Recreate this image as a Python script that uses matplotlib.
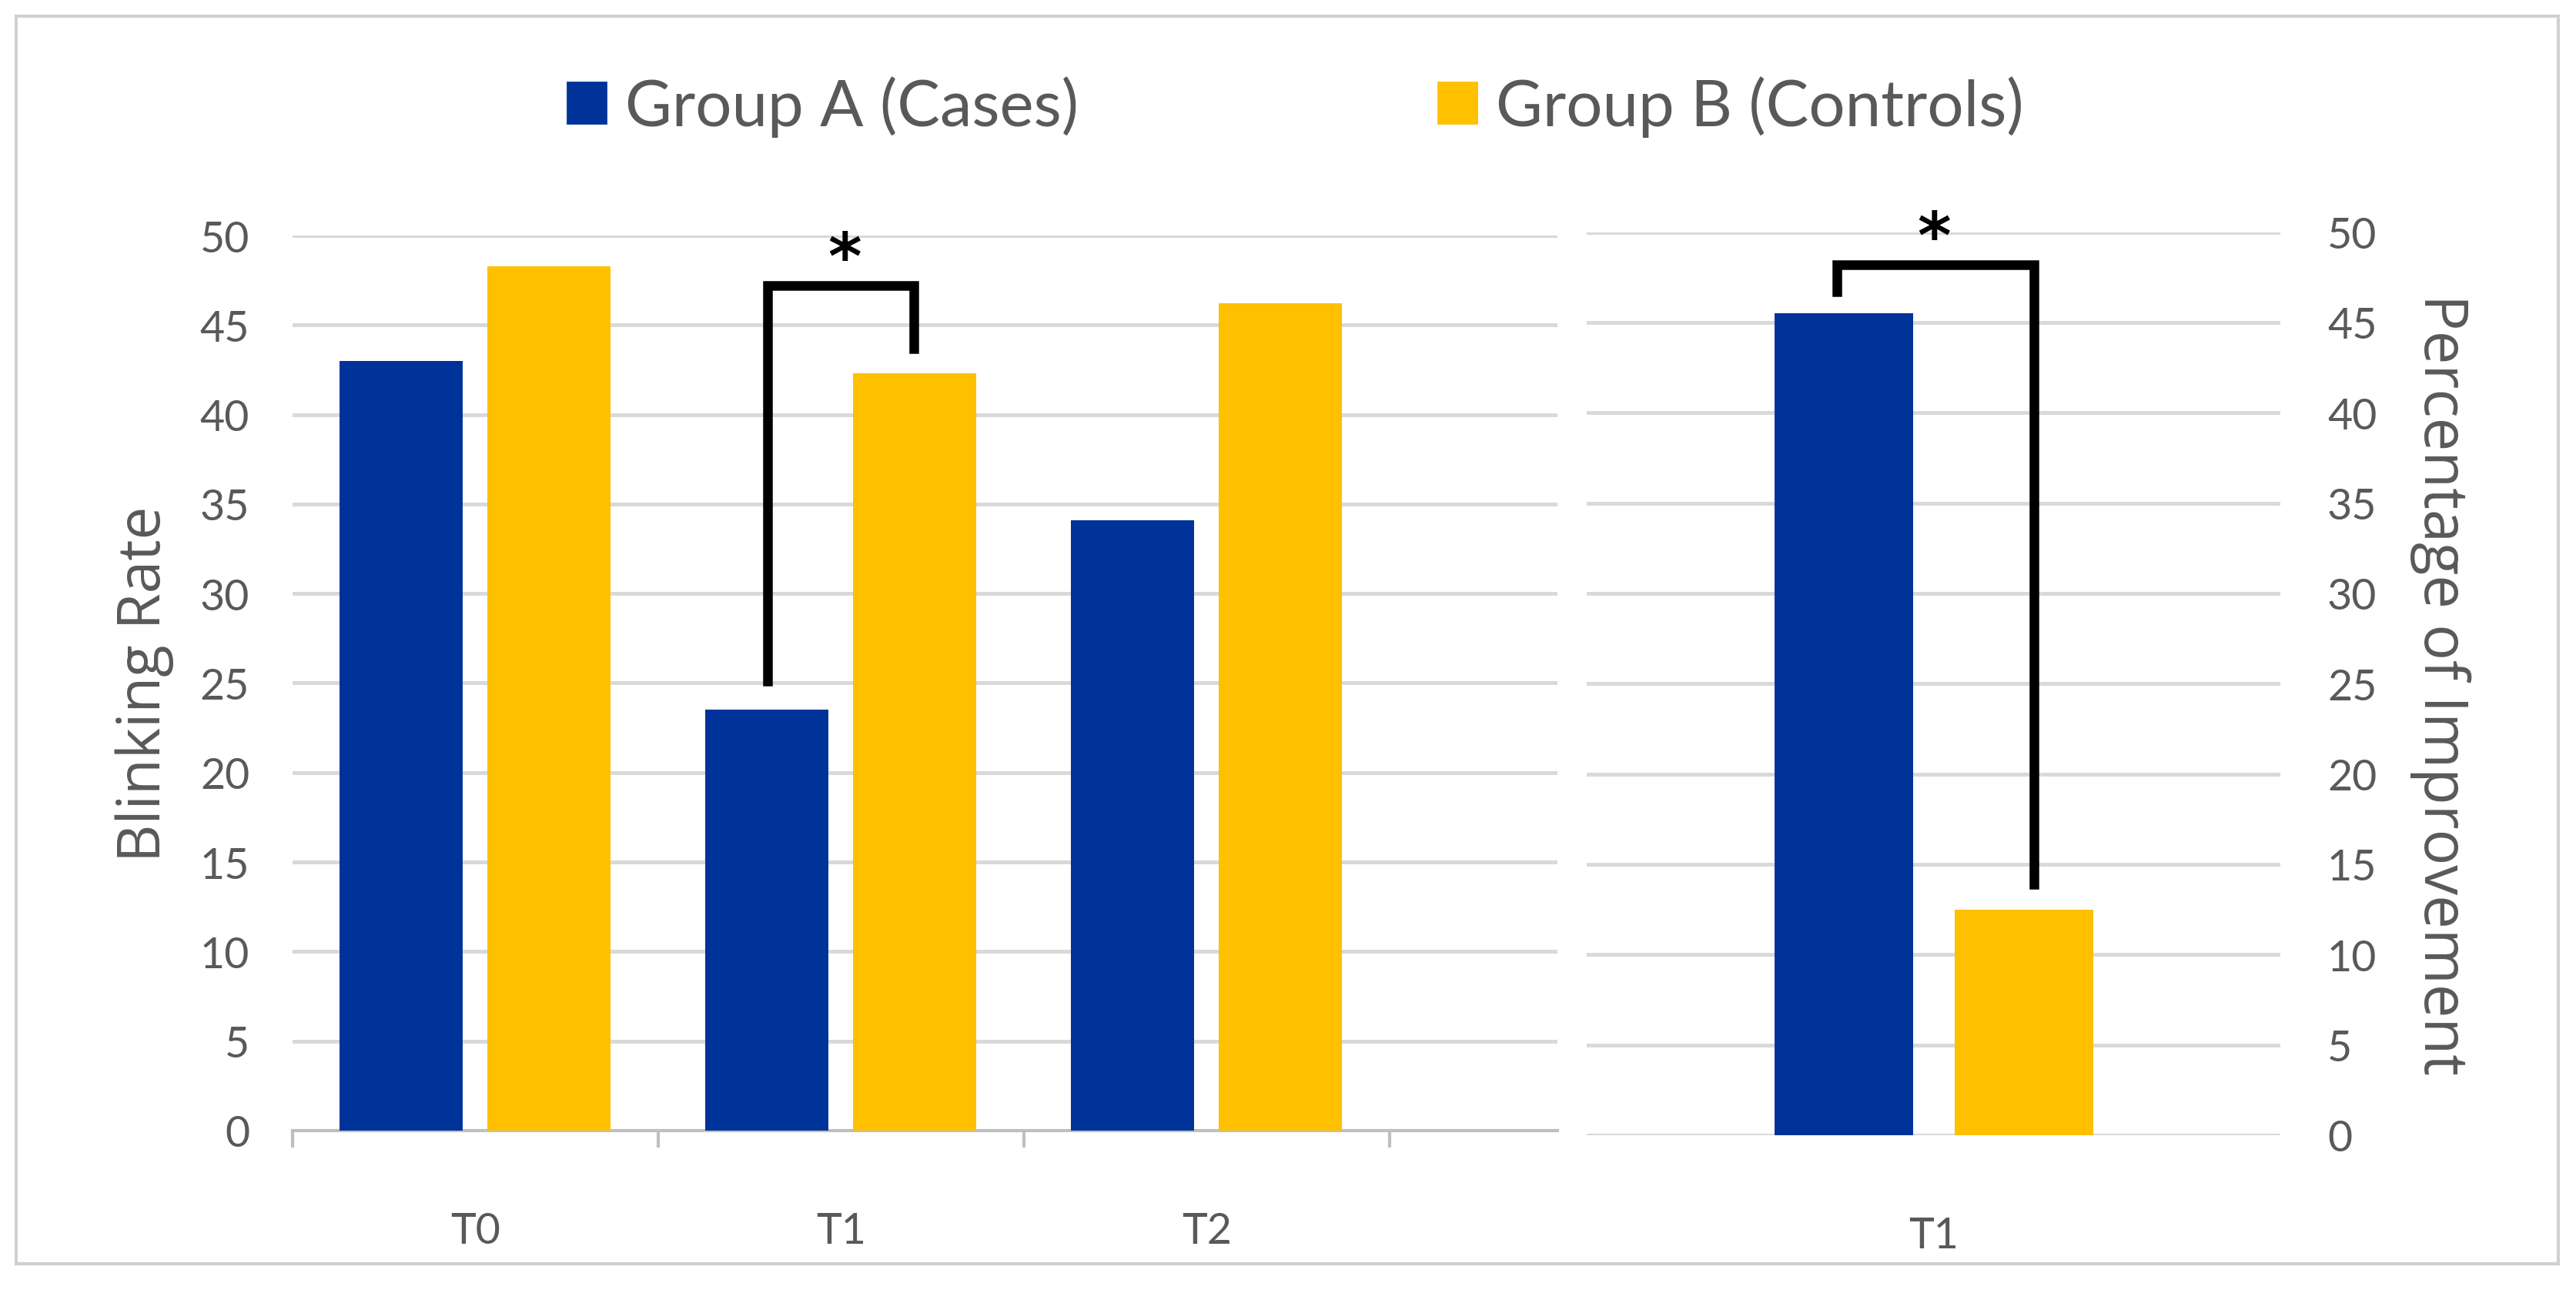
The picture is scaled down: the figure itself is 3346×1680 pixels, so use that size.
import matplotlib.pyplot as plt
from matplotlib.patches import Rectangle, Patch
import numpy as np

# blinking rate per time point
times = ['T0', 'T1', 'T2']
group_a = [43.0, 23.5, 34.1]
group_b = [48.3, 42.3, 46.2]

# percentage of improvement at T1
improve_label = ['T1']
improve_a = [45.5]
improve_b = [12.5]

blue = '#00339A'
yellow = '#FFC000'
grey_txt = '#595959'
grid_c = '#D9D9D9'

fig = plt.figure(figsize=(16.73, 8.405), dpi=200)
fig.patch.set_facecolor('white')

# outer frame
fig.patches.append(Rectangle((0.0064, 0.0228), 0.9866, 0.9642, transform=fig.transFigure,
                             fill=False, edgecolor='#D0D0D0', linewidth=1.5))

ax1 = fig.add_axes([0.1135, 0.1256, 0.4911, 0.6917])
ax2 = fig.add_axes([0.6161, 0.1220, 0.2691, 0.6980])

x = np.arange(len(times))
off, w = 0.202, 0.337
ax1.bar(x - off, group_a, w, color=blue, zorder=3)
ax1.bar(x + off, group_b, w, color=yellow, zorder=3)
ax1.set_xlim(-0.5, 2.96)
ax1.set_ylim(0, 50)
ax1.set_yticks(np.arange(0, 51, 5))
ax1.set_xticks(x)
ax1.set_xticklabels(times)
ax1.set_xticks(np.arange(-0.5, 3.0, 1.0), minor=True)
ax1.tick_params(axis='x', which='major', length=0, pad=38, labelsize=20, labelcolor=grey_txt)
ax1.tick_params(axis='x', which='minor', length=8, width=1.5, color='#BFBFBF')
ax1.tick_params(axis='y', length=0, pad=20, labelsize=20, labelcolor=grey_txt)
ax1.grid(axis='y', color=grid_c, linewidth=1.8, zorder=0)
for s in ['top', 'right', 'left']:
    ax1.spines[s].set_visible(False)
ax1.spines['bottom'].set_color('#BFBFBF')
ax1.spines['bottom'].set_linewidth(1.5)
ax1.set_ylabel('Blinking Rate', fontsize=27.5, color=grey_txt, family='Open Sans', labelpad=12)

xr = np.arange(len(improve_label))
ax2.bar(xr - 0.13, improve_a, 0.2, color=blue, zorder=3)
ax2.bar(xr + 0.13, improve_b, 0.2, color=yellow, zorder=3)
ax2.set_xlim(-0.5, 0.5)
ax2.set_ylim(0, 50)
ax2.set_yticks(np.arange(0, 51, 5))
ax2.set_xticks(xr)
ax2.set_xticklabels(improve_label)
ax2.yaxis.tick_right()
ax2.yaxis.set_label_position('right')
ax2.tick_params(axis='x', length=0, pad=38, labelsize=20, labelcolor=grey_txt)
ax2.tick_params(axis='y', length=0, pad=22, labelsize=20, labelcolor=grey_txt)
ax2.grid(axis='y', color=grid_c, linewidth=1.8, zorder=0)
for s in ax2.spines.values():
    s.set_visible(False)
ax2.set_ylabel('Percentage of Improvement', fontsize=28, color=grey_txt, family='Open Sans',
               rotation=270, labelpad=44)

for a in (ax1, ax2):
    for lab in a.get_xticklabels() + a.get_yticklabels():
        lab.set_family('Lato')

# significance brackets
ax1.plot([0.8, 0.8, 1.2, 1.2], [25.1, 47.2, 47.2, 43.7], color='black', lw=4.5,
         solid_joinstyle='miter', zorder=5, clip_on=False)
ax1.text(1.01, 46.9, '*', ha='center', va='bottom', fontsize=30, fontweight='bold', zorder=5)
ax2.plot([-0.14, -0.14, 0.145, 0.145], [46.7, 48.2, 48.2, 13.9], color='black', lw=4.5,
         solid_joinstyle='miter', zorder=5, clip_on=False)
ax2.text(0.0, 47.9, '*', ha='center', va='bottom', fontsize=30, fontweight='bold', zorder=5,
         clip_on=False)

handles = [Patch(color=blue, label='Group A (Cases)'), Patch(color=yellow, label='Group B (Controls)')]
leg = fig.legend(handles=handles, loc='center', bbox_to_anchor=(0.503, 0.9175), ncol=2,
                 frameon=False, handlelength=0.6, handleheight=0.6,
                 handletextpad=0.3, columnspacing=5.6, prop={'family': 'Lato', 'size': 30})
for t in leg.get_texts():
    t.set_color(grey_txt)

fig.savefig('out.png', dpi=200)
